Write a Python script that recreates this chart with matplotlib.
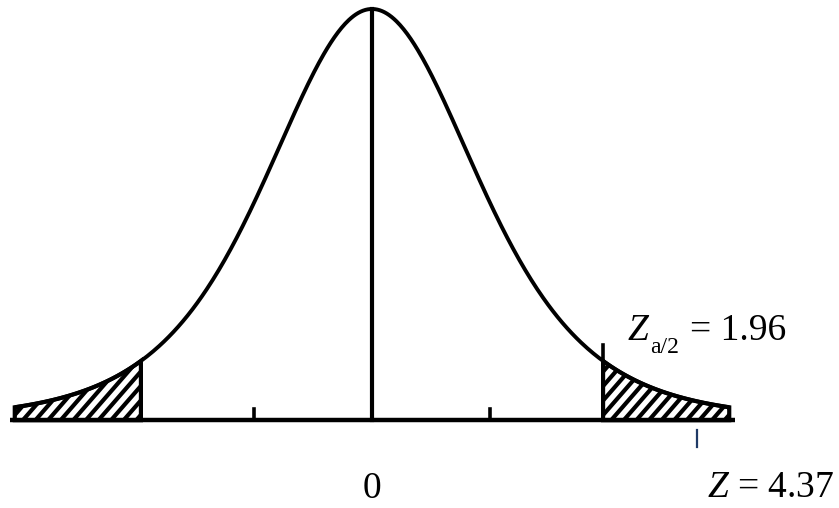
import numpy as np
import matplotlib
matplotlib.use("Agg")
import matplotlib.pyplot as plt
from matplotlib.patches import Polygon

# curve: heavy tailed bell (t with 5 df), peak scaled to 1
df_t = 5
scale = 0.92
x_lo, x_hi = -3.03, 3.03
z_crit = 1.96
minor_ticks = [-1.0, 1.0]
z_obs_pos = 2.76  # where the Z = 4.37 tick is drawn on the axis

crit_sym, crit_sub, crit_val = "Z", "a/2", "= 1.96"
zero_label = "0"
obs_label = r"$Z$ = 4.37"

plt.rcParams["mathtext.fontset"] = "custom"
plt.rcParams["mathtext.rm"] = "Liberation Serif"
plt.rcParams["mathtext.it"] = "Liberation Serif:italic"
plt.rcParams["font.family"] = ["Liberation Serif", "DejaVu Serif"]

PX_X, PX_Y = 117.9, 412.0  # pixels per data unit


def bell(x):
    return (1 + (x / scale) ** 2 / df_t) ** (-(df_t + 1) / 2)


fig = plt.figure(figsize=(8.39, 5.08), dpi=100)
ax = fig.add_axes([0, 0, 1, 1])
ax.set_xlim(-372 / PX_X, (839 - 372) / PX_X)
ax.set_ylim(-88 / PX_Y, 1 + 9 / PX_Y)
ax.axis("off")

x = np.linspace(x_lo, x_hi, 600)
ax.plot(x, bell(x), color="black", lw=2.8, solid_capstyle="butt")

# shaded tails with hand-drawn style hatching
k = PX_X / PX_Y * 1.15
step = 12.6 / PX_X
for a, b in [(x_lo, -z_crit), (z_crit, x_hi)]:
    xs = np.linspace(a, b, 200)
    verts = np.vstack([[a, 0], np.column_stack([xs, bell(xs)]), [b, 0]])
    patch = Polygon(verts, closed=True, facecolor="none", edgecolor="black",
                    lw=3.0, zorder=3)
    ax.add_patch(patch)
    for c in np.arange(a - 1.0, b + 0.1, step):
        ln, = ax.plot([c, c + 1.0], [0, k], color="black", lw=3.0, zorder=1.5)
        ln.set_clip_path(patch)

# baseline
ax.plot([-3.07, 3.08], [0, 0], color="black", lw=3.2, solid_capstyle="butt",
        zorder=4)

# center line
ax.plot([0, 0], [0, 1], color="black", lw=3.0)

# ticks
for t in minor_ticks:
    ax.plot([t, t], [0, 0.026], color="black", lw=2.6)
ax.plot([z_crit, z_crit], [0, 0.182], color="black", lw=2.6)
ax.plot([z_obs_pos, z_obs_pos], [-0.025, -0.065], color="#1f3a66", lw=1.6)

# critical value label, built from pieces so the subscript sits low
ax.text(2.171, 0.196, crit_sym, fontsize=27, style="italic",
        ha="left", va="baseline")
ax.text(2.36, 0.164, crit_sub, fontsize=17, ha="left", va="baseline")
ax.text(2.70, 0.196, crit_val, fontsize=27, ha="left", va="baseline")

ax.text(0, -0.189, zero_label, fontsize=27, ha="center", va="baseline")
ax.text(2.841, -0.187, obs_label, fontsize=27, ha="left", va="baseline")

fig.savefig("out.png", dpi=100)
